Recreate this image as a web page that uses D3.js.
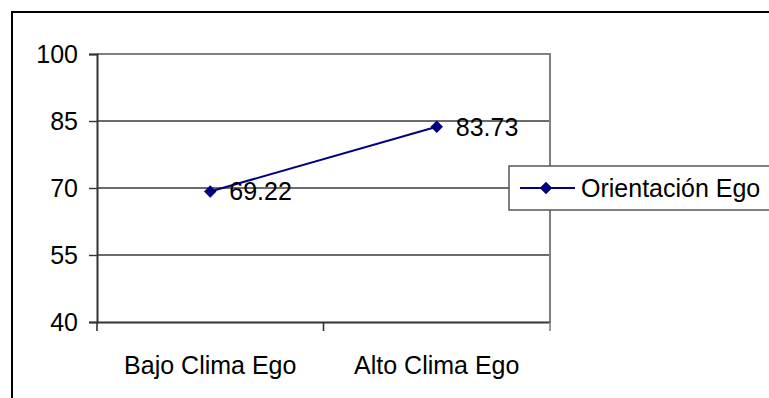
<!DOCTYPE html>
<html>
<head>
<meta charset="utf-8">
<script src="https://cdn.jsdelivr.net/npm/d3@7"></script>
<style>
  html, body { margin: 0; padding: 0; background: #fff; }
  svg { display: block; font-family: "Liberation Sans", Arial, sans-serif; }
</style>
</head>
<body>
<svg id="chart" width="769" height="398"></svg>
<script>
// Chart data
const categories = ["Bajo Clima Ego", "Alto Clima Ego"];
const seriesName = "Orientación Ego";
const seriesValues = [69.22, 83.73];
const yTicks = [40, 55, 70, 85, 100];

const svg = d3.select("#chart");
const W = 769, H = 398;
const plot = { left: 97, right: 550, top: 54, bottom: 322 };
const fontSize = 25;
const navy = "#000080";

// Outer frame of the chart
svg.append("rect")
  .attr("x", 12).attr("y", 12)
  .attr("width", W + 10).attr("height", H + 10)
  .attr("fill", "#fff").attr("stroke", "#000").attr("stroke-width", 2);

const x = d3.scaleBand().domain(categories).range([plot.left, plot.right]);
const y = d3.scaleLinear().domain([40, 100]).range([plot.bottom, plot.top]);

// Horizontal gridlines
svg.append("g")
  .selectAll("line")
  .data(yTicks.filter(t => t !== 40 && t !== 100))
  .join("line")
  .attr("x1", plot.left).attr("x2", plot.right)
  .attr("y1", d => y(d)).attr("y2", d => y(d))
  .attr("stroke", "#3a3a3a").attr("stroke-width", 1.4);

// Plot area border (top and right)
svg.append("path")
  .attr("d", `M${plot.left},${plot.top}H${plot.right}V${plot.bottom}`)
  .attr("fill", "none").attr("stroke", "#808080").attr("stroke-width", 2);

// Y axis
const yAxis = svg.append("g")
  .attr("transform", `translate(${plot.left},0)`)
  .call(d3.axisLeft(y).tickValues(yTicks).tickSize(8).tickPadding(11).tickFormat(d3.format("d")));
yAxis.select(".domain").attr("stroke", "#333").attr("stroke-width", 2);
yAxis.selectAll(".tick line").attr("stroke", "#333").attr("stroke-width", 1.4);
yAxis.selectAll(".tick text")
  .attr("font-size", fontSize).attr("fill", "#000")
  .style("font-family", "'Liberation Sans', Arial, sans-serif");

// X axis with ticks between categories
const xAxis = svg.append("g")
  .attr("transform", `translate(0,${plot.bottom})`)
  .call(d3.axisBottom(x).tickSize(0).tickPadding(34));
xAxis.select(".domain").attr("stroke", "#333").attr("stroke-width", 2);
xAxis.selectAll(".tick text")
  .attr("font-size", fontSize).attr("fill", "#000")
  .style("font-family", "'Liberation Sans', Arial, sans-serif");

const boundaries = [plot.left, x(categories[1]), plot.right];
svg.append("g")
  .selectAll("line")
  .data(boundaries)
  .join("line")
  .attr("x1", d => d).attr("x2", d => d)
  .attr("y1", plot.bottom).attr("y2", plot.bottom + 9)
  .attr("stroke", (d, i) => i === 2 ? "#808080" : "#333")
  .attr("stroke-width", 1.6);

// Series line
const pts = categories.map((c, i) => ({ c, v: seriesValues[i] }));
svg.append("path")
  .datum(pts)
  .attr("d", d3.line().x(d => x(d.c) + x.bandwidth() / 2).y(d => y(d.v)))
  .attr("fill", "none").attr("stroke", navy).attr("stroke-width", 2);

// Diamond markers
const diamond = d3.symbol().type(d3.symbolDiamond2).size(100);
svg.append("g")
  .selectAll("path")
  .data(pts)
  .join("path")
  .attr("d", diamond)
  .attr("transform", d => `translate(${x(d.c) + x.bandwidth() / 2},${y(d.v)})`)
  .attr("fill", navy);

// Value labels
svg.append("g")
  .selectAll("text")
  .data(pts)
  .join("text")
  .attr("x", d => x(d.c) + x.bandwidth() / 2 + 19)
  .attr("y", d => y(d.v))
  .attr("dy", "0.36em")
  .attr("font-size", fontSize)
  .attr("fill", "#000")
  .text(d => d.v.toFixed(2));

// Legend
const legend = svg.append("g").attr("transform", "translate(509,166)");
legend.append("rect")
  .attr("x", 0).attr("y", 0).attr("width", 300).attr("height", 44)
  .attr("fill", "#fff").attr("stroke", "#555").attr("stroke-width", 1.5);
legend.append("line")
  .attr("x1", 11).attr("x2", 66).attr("y1", 22).attr("y2", 22)
  .attr("stroke", navy).attr("stroke-width", 2);
legend.append("path")
  .attr("d", diamond)
  .attr("transform", "translate(37,22)")
  .attr("fill", navy);
legend.append("text")
  .attr("x", 72).attr("y", 22).attr("dy", "0.36em")
  .attr("font-size", fontSize).attr("fill", "#000")
  .text(seriesName);
</script>
</body>
</html>
